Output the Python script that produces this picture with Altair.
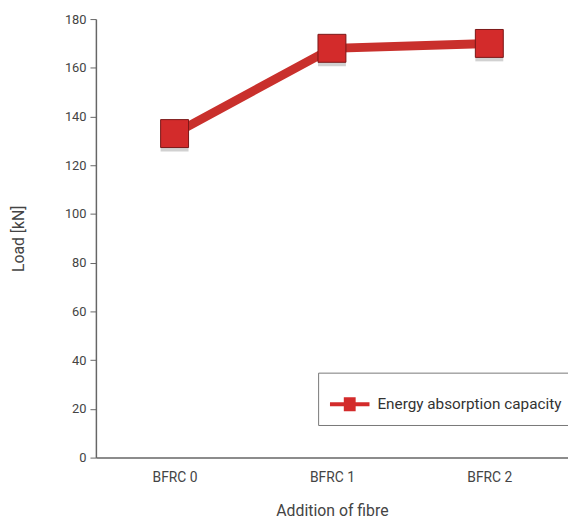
import altair as alt
import pandas as pd

categories = ["BFRC 0", "BFRC 1", "BFRC 2"]
load_kn = [133, 168, 170]
series = ["Energy absorption capacity"] * 3

df = pd.DataFrame({"cat": categories, "load": load_kn, "series": series})

RED = "#c9302c"
FONT = "Roboto"

x = alt.X("cat:N", sort=categories, title="Addition of fibre",
          scale=alt.Scale(paddingInner=0, paddingOuter=0),
          axis=alt.Axis(labelAngle=0, ticks=False, labelPadding=13, titlePadding=19,
                        labelFontSize=14))
y = alt.Y("load:Q", title="Load [kN]",
          scale=alt.Scale(domain=[0, 180], nice=False),
          axis=alt.Axis(values=list(range(0, 181, 20)), tickSize=6, labelPadding=4,
                        titlePadding=38, grid=False))

base = alt.Chart(df)

line = base.mark_line(color=RED, strokeWidth=9).encode(x=x, y=y)
shadow = base.mark_square(size=800, color="#999999", opacity=0.45, yOffset=4).encode(x=x, y=y)
squares = base.mark_square(size=800, opacity=1, stroke="#7a1616", strokeWidth=1).encode(
    x=x, y=y,
    color=alt.Color("series:N", scale=alt.Scale(range=["#d32b2b"]),
                    legend=alt.Legend(
                        title=None, orient="none", legendX=225, legendY=358,
                        symbolType="M-1,-0.1L1,-0.1L1,0.1L-1,0.1Z M-0.3,-0.35L0.3,-0.35L0.3,0.35L-0.3,0.35Z",
                        symbolSize=1600, symbolStrokeWidth=0,
                        strokeColor="#777777", fillColor="white",
                        padding=12, labelFontSize=15.5, labelColor="#333333",
                        labelFont=FONT, labelOffset=8, labelLimit=400,
                    ))
)

chart = (line + shadow + squares).properties(
    width=478, height=444,
    autosize=alt.AutoSizeParams(type="none"),
    padding={"left": 89, "top": 8, "right": 0, "bottom": 62},
).configure_view(stroke=None).configure_axis(
    domainColor="#666666", tickColor="#666666", labelColor="#444444",
    titleColor="#444444", labelFont=FONT, titleFont=FONT,
    labelFontSize=13, titleFontSize=16, titleFontWeight="normal",
    domainWidth=1.5,
)

chart.save("out.html", embed_options={"renderer": "svg", "actions": False})
